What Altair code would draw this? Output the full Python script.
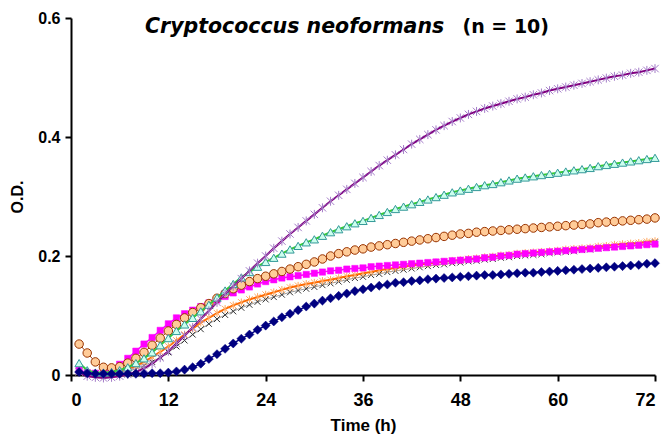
import altair as alt
import pandas as pd

hours = list(range(1, 73))

purple = [0.005, -0.002, -0.004, -0.005, -0.004, -0.002, 0.001, 0.005, 0.011, 0.019,
          0.029, 0.040, 0.053, 0.066, 0.080, 0.094, 0.108, 0.122, 0.136, 0.149,
          0.162, 0.175, 0.188, 0.200, 0.213, 0.225, 0.237, 0.248, 0.259, 0.270,
          0.281, 0.292, 0.302, 0.312, 0.322, 0.332, 0.342, 0.352, 0.361, 0.370,
          0.379, 0.388, 0.396, 0.404, 0.412, 0.419, 0.426, 0.432, 0.438, 0.443,
          0.448, 0.452, 0.456, 0.460, 0.464, 0.467, 0.471, 0.474, 0.478, 0.481,
          0.484, 0.487, 0.490, 0.493, 0.496, 0.499, 0.502, 0.504, 0.507, 0.509,
          0.512, 0.515]

green = [0.020, 0.008, 0.004, 0.004, 0.005, 0.008, 0.013, 0.020, 0.028, 0.038,
         0.050, 0.062, 0.074, 0.085, 0.096, 0.107, 0.118, 0.130, 0.142, 0.153,
         0.164, 0.173, 0.182, 0.190, 0.197, 0.204, 0.211, 0.217, 0.223, 0.228,
         0.234, 0.240, 0.245, 0.250, 0.255, 0.259, 0.264, 0.269, 0.274, 0.279,
         0.283, 0.287, 0.291, 0.295, 0.299, 0.303, 0.307, 0.310, 0.313, 0.316,
         0.319, 0.321, 0.324, 0.327, 0.330, 0.332, 0.334, 0.336, 0.338, 0.340,
         0.342, 0.344, 0.346, 0.348, 0.351, 0.353, 0.355, 0.357, 0.359, 0.361,
         0.363, 0.365]

circles = [0.052, 0.037, 0.022, 0.013, 0.012, 0.014, 0.020, 0.028, 0.038, 0.050,
           0.062, 0.074, 0.085, 0.096, 0.105, 0.113, 0.120, 0.129, 0.137, 0.145,
           0.151, 0.157, 0.162, 0.166, 0.170, 0.174, 0.178, 0.182, 0.186, 0.190,
           0.195, 0.200, 0.204, 0.207, 0.210, 0.212, 0.215, 0.217, 0.219, 0.221,
           0.223, 0.225, 0.227, 0.229, 0.231, 0.233, 0.235, 0.237, 0.238, 0.240,
           0.241, 0.242, 0.243, 0.244, 0.245, 0.246, 0.247, 0.248, 0.249, 0.250,
           0.251, 0.252, 0.253, 0.254, 0.256, 0.257, 0.258, 0.259, 0.260, 0.261,
           0.262, 0.264]

magenta = [0.008, 0.004, 0.003, 0.005, 0.010, 0.018, 0.028, 0.040, 0.052, 0.063,
           0.075, 0.086, 0.096, 0.103, 0.109, 0.115, 0.121, 0.126, 0.132, 0.138,
           0.143, 0.148, 0.153, 0.157, 0.160, 0.163, 0.165, 0.167, 0.169, 0.171,
           0.173, 0.175, 0.176, 0.178, 0.179, 0.180, 0.182, 0.183, 0.184, 0.185,
           0.186, 0.187, 0.188, 0.189, 0.190, 0.191, 0.192, 0.193, 0.194, 0.195,
           0.197, 0.198, 0.200, 0.201, 0.203, 0.204, 0.205, 0.206, 0.207, 0.208,
           0.209, 0.210, 0.211, 0.212, 0.213, 0.214, 0.215, 0.216, 0.217, 0.218,
           0.219, 0.220]

orange = [0.006, 0.004, 0.003, 0.003, 0.004, 0.006, 0.010, 0.015, 0.022, 0.030,
          0.039, 0.048, 0.058, 0.068, 0.078, 0.088, 0.096, 0.104, 0.111, 0.117,
          0.122, 0.127, 0.131, 0.135, 0.139, 0.143, 0.147, 0.150, 0.153, 0.155,
          0.158, 0.160, 0.163, 0.166, 0.168, 0.171, 0.173, 0.176, 0.178, 0.180,
          0.182, 0.184, 0.186, 0.187, 0.189, 0.190, 0.192, 0.193, 0.195, 0.196,
          0.198, 0.199, 0.201, 0.202, 0.204, 0.205, 0.206, 0.207, 0.208, 0.209,
          0.211, 0.212, 0.213, 0.214, 0.216, 0.217, 0.219, 0.220, 0.221, 0.222,
          0.224, 0.225]

black = [0.005, 0.003, 0.002, 0.002, 0.003, 0.004, 0.007, 0.010, 0.016, 0.022,
         0.030, 0.038, 0.048, 0.058, 0.068, 0.077, 0.086, 0.094, 0.101, 0.107,
         0.113, 0.118, 0.123, 0.127, 0.131, 0.135, 0.139, 0.142, 0.145, 0.148,
         0.151, 0.154, 0.157, 0.160, 0.163, 0.165, 0.168, 0.170, 0.173, 0.175,
         0.177, 0.179, 0.181, 0.183, 0.185, 0.186, 0.188, 0.189, 0.191, 0.192,
         0.194, 0.195, 0.197, 0.198, 0.200, 0.201, 0.202, 0.203, 0.205, 0.206,
         0.207, 0.208, 0.210, 0.211, 0.213, 0.214, 0.215, 0.217, 0.218, 0.219,
         0.221, 0.223]

navy = [0.005, 0.003, 0.002, 0.002, 0.002, 0.002, 0.002, 0.002, 0.002, 0.003,
        0.003, 0.004, 0.006, 0.009, 0.013, 0.019, 0.027, 0.035, 0.044, 0.053,
        0.061, 0.068, 0.076, 0.083, 0.090, 0.097, 0.103, 0.109, 0.115, 0.120,
        0.125, 0.129, 0.133, 0.137, 0.141, 0.144, 0.147, 0.150, 0.152, 0.155,
        0.156, 0.158, 0.159, 0.161, 0.162, 0.163, 0.164, 0.165, 0.166, 0.167,
        0.168, 0.168, 0.169, 0.170, 0.171, 0.172, 0.172, 0.173, 0.174, 0.175,
        0.176, 0.177, 0.178, 0.179, 0.180, 0.181, 0.182, 0.183, 0.184, 0.185,
        0.187, 0.188]

x_ticks = [0, 12, 24, 36, 48, 60, 72]
y_ticks = [0, 0.2, 0.4, 0.6]
title_species = "Cryptococcus neoformans"
title_n = "(n = 10)"

ASTER = "M-1,-1L1,1M-1,1L1,-1M0,-1.2L0,1.2"
XMARK = "M-1,-1L1,1M-1,1L1,-1"

xs = alt.Scale(domain=[0, 72], nice=False)
ys = alt.Scale(domain=[0, 0.6], nice=False)
xenc = alt.X("t:Q", scale=xs,
             axis=alt.Axis(values=x_ticks, title="Time (h)", titlePadding=8,
                           labelPadding=10))
yenc = alt.Y("v:Q", scale=ys,
             axis=alt.Axis(values=y_ticks, title="O.D.", format=".1~f",
                           titlePadding=12, labelPadding=5))


def series(vals, line=None, line_w=1.8, shape="circle", size=50, fill=None,
           stroke=None, stroke_w=1.0, filled=True):
    df = pd.DataFrame({"t": hours, "v": vals})
    base = alt.Chart(df)
    layers = []
    if line is not None:
        layers.append(base.mark_line(color=line, strokeWidth=line_w, clip=False)
                      .encode(x=xenc, y=yenc))
    pt_kwargs = dict(shape=shape, size=size, filled=filled, clip=False,
                     opacity=1, strokeWidth=stroke_w)
    if fill is not None:
        pt_kwargs["fill"] = fill
    if stroke is not None:
        pt_kwargs["stroke"] = stroke
    layers.append(base.mark_point(**pt_kwargs).encode(x=xenc, y=yenc))
    return layers


layers = []
layers += series(black, line="#555555", line_w=0.6, shape=XMARK, size=36,
                 stroke="#333333", filled=False, stroke_w=1.0)
layers += series(orange, line="#ff6a00", line_w=2.0, shape=ASTER, size=42,
                 stroke="#ffa860", filled=False, stroke_w=1.0)
layers += series(magenta, line="#ff00ff", line_w=1.5, shape="square", size=40,
                 fill="#ff00ff", stroke="#ff00ff", stroke_w=0.5)
layers += series(circles, line="#993300", line_w=1.0, shape="circle", size=72,
                 fill="#ffcc99", stroke="#993300", stroke_w=1.0)
layers += series(green, line="#33cc33", line_w=2.0, shape="triangle-up", size=70,
                 fill="#ccffee", stroke="#339999", stroke_w=1.0)
layers += series(purple, line="#800080", line_w=2.0, shape=ASTER, size=55,
                 stroke="#a47cc8", filled=False, stroke_w=1.0)
layers += series(navy, line="#000080", line_w=1.5, shape="diamond", size=82,
                 fill="#000080", stroke="#000080", stroke_w=0.5)

tdf = pd.DataFrame({"a": [title_species], "b": [title_n]})
t1 = alt.Chart(tdf).mark_text(font="DejaVu Sans", fontSize=20.5, fontWeight="bold",
                              fontStyle="italic", align="left", baseline="alphabetic",
                              color="black").encode(
    text="a:N", x=alt.value(74), y=alt.value(15))
t2 = alt.Chart(tdf).mark_text(font="DejaVu Sans", fontSize=19, fontWeight="bold",
                              align="right", baseline="alphabetic",
                              color="black").encode(
    text="b:N", x=alt.value(478), y=alt.value(15))

chart = alt.layer(*layers, t1, t2).properties(
    width=584, height=357,
    autosize=alt.AutoSizeParams(type="none"),
    padding={"left": 63, "top": 10, "right": 6, "bottom": 60},
    background="white",
).configure_view(stroke=None).configure_axis(
    grid=False,
    domainColor="black", domainWidth=2,
    tickColor="black", tickWidth=2, tickSize=6,
    labelFont="Liberation Sans", labelFontWeight="bold", labelFontSize=18,
    labelColor="black",
    titleFont="Liberation Sans", titleFontWeight="bold", titleFontSize=17,
    titleColor="black",
).configure_axisY(labelFontSize=16, titleFontSize=16)

chart.save("out.html", embed_options={"renderer": "svg", "actions": False})
